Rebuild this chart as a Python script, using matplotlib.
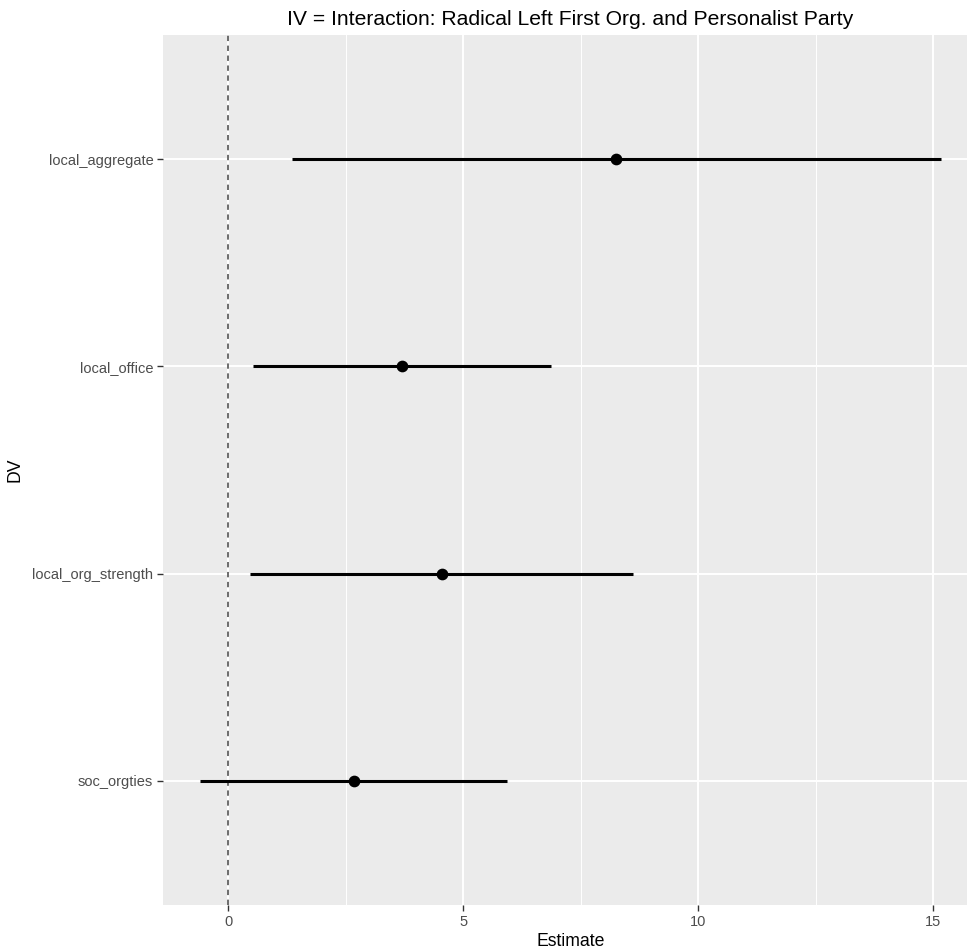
import numpy as np
import matplotlib.pyplot as plt

dvs = ['local_aggregate', 'local_office', 'local_org_strength', 'soc_orgties']
estimate = [8.24, 3.70, 4.54, 2.67]
lower = [1.35, 0.52, 0.47, -0.60]
upper = [15.16, 6.87, 8.62, 5.92]

plt.rcParams['font.family'] = ['Liberation Sans', 'DejaVu Sans']

fig = plt.figure(figsize=(9.67, 9.48), dpi=100)
# panel runs past the right edge, as in the reference crop
ax = fig.add_axes([163/967, 43/948, 815/967, 870/948])
ax.set_facecolor('#EBEBEB')

ypos = np.arange(len(dvs))[::-1] + 1

ax.hlines(ypos, lower, upper, color='black', linewidth=2.2, zorder=3)
ax.scatter(estimate, ypos, s=55, color='black', zorder=4)
ax.axvline(0, color='#444444', linestyle=(0, (3.5, 3)), linewidth=1.1, zorder=2)

ax.set_xlim(-1.39, 15.95)
ax.set_ylim(0.4, len(dvs) + 0.6)
ax.set_xticks([0, 5, 10, 15])
ax.set_xticks([2.5, 7.5, 12.5], minor=True)
ax.set_yticks(ypos)
ax.set_yticklabels(dvs)

ax.grid(which='major', color='white', linewidth=1.4, zorder=0)
ax.grid(which='minor', axis='x', color='white', linewidth=0.7, zorder=0)
ax.set_axisbelow(True)
for s in ax.spines.values():
    s.set_visible(False)

ax.tick_params(axis='both', which='major', length=4, width=1.0, color='#333333',
               labelcolor='#4D4D4D', labelsize=10.5, pad=3)
ax.tick_params(axis='both', which='minor', length=0)

ax.set_xlabel('Estimate', fontsize=12.7, labelpad=3)
ax.set_ylabel('DV', fontsize=12.7, labelpad=6)
ax.set_title('IV = Interaction: Radical Left First Org. and Personalist Party',
             fontsize=15.2, pad=7)

fig.savefig('out.png', dpi=100)
